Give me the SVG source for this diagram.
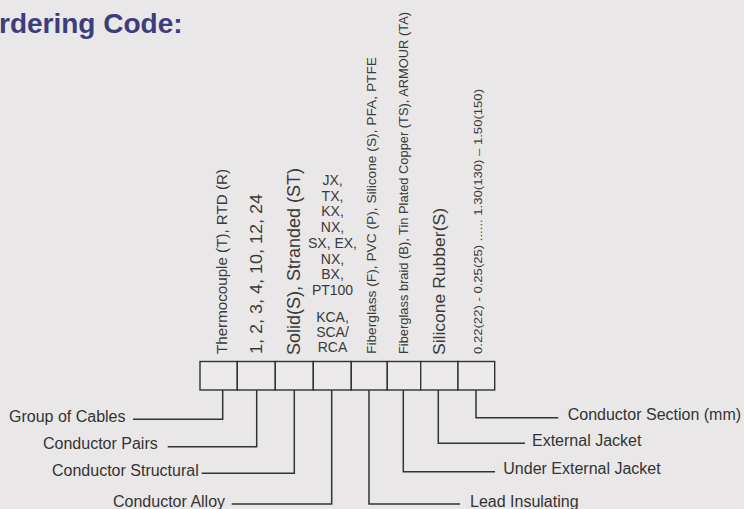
<svg xmlns="http://www.w3.org/2000/svg" width="744" height="509" viewBox="0 0 744 509">
  <style>
    .bg { fill: #e9e7e7; }
    .title { font-family: "Liberation Sans", Arial, sans-serif; font-weight: bold; font-size: 28px; fill: #3b3e7c; }
    .opt { font-family: "Liberation Sans", Arial, sans-serif; fill: #3a3a3a; }
    .lbl { font-family: "Liberation Sans", Arial, sans-serif; font-size: 16px; fill: #333333; }
    .cell { fill: #eceaea; stroke: #333333; stroke-width: 1.4; }
    .conn { fill: none; stroke: #333333; stroke-width: 1.5; }
  </style>
  <rect class="bg" x="0" y="0" width="744" height="509"/>

  <g id="title">
    <text class="title" x="-1" y="33">rdering Code:</text>
  </g>

  <g id="col-1">
    <rect class="cell" x="200" y="361.5" width="37.3" height="28.5"/>
    <text class="opt" font-size="14" transform="translate(226.5,354) rotate(-90)" textLength="185" lengthAdjust="spacingAndGlyphs">Thermocouple (T), RTD (R)</text>
  </g>
  <g id="col-2">
    <rect class="cell" x="237.3" y="361.5" width="38" height="28.5"/>
    <text class="opt" font-size="16.5" transform="translate(261.5,354) rotate(-90)" textLength="160" lengthAdjust="spacingAndGlyphs">1, 2, 3, 4, 10, 12, 24</text>
  </g>
  <g id="col-3">
    <rect class="cell" x="275.3" y="361.5" width="38" height="28.5"/>
    <text class="opt" font-size="17.5" transform="translate(299.5,355) rotate(-90)" textLength="187" lengthAdjust="spacingAndGlyphs">Solid(S), Stranded (ST)</text>
  </g>
  <g id="col-4">
    <rect class="cell" x="313.3" y="361.5" width="38" height="28.5"/>
    <g class="opt" font-size="14" text-anchor="middle">
      <text x="332.5" y="185">JX,</text>
      <text x="332.5" y="200.7">TX,</text>
      <text x="332.5" y="216.4">KX,</text>
      <text x="332.5" y="232.1">NX,</text>
      <text x="332.5" y="247.9">SX, EX,</text>
      <text x="332.5" y="263.6">NX,</text>
      <text x="332.5" y="279.3">BX,</text>
      <text x="332.5" y="295">PT100</text>
      <text x="332.5" y="321.7">KCA,</text>
      <text x="332.5" y="336.7">SCA/</text>
      <text x="332.5" y="351.7">RCA</text>
    </g>
  </g>
  <g id="col-5">
    <rect class="cell" x="351.3" y="361.5" width="36" height="28.5"/>
    <text class="opt" font-size="13.5" transform="translate(375.7,354) rotate(-90)" textLength="297" lengthAdjust="spacingAndGlyphs">Fiberglass (F), PVC (P), Silicone (S), PFA, PTFE</text>
  </g>
  <g id="col-6">
    <rect class="cell" x="387.3" y="361.5" width="33.4" height="28.5"/>
    <text class="opt" font-size="12" transform="translate(407.5,354) rotate(-90)" textLength="342" lengthAdjust="spacingAndGlyphs">Fiberglass braid (B), Tin Plated Copper (TS), ARMOUR (TA)</text>
  </g>
  <g id="col-7">
    <rect class="cell" x="420.7" y="361.5" width="37.3" height="28.5"/>
    <text class="opt" font-size="17" transform="translate(444.5,355) rotate(-90)" textLength="147" lengthAdjust="spacingAndGlyphs">Silicone Rubber(S)</text>
  </g>
  <g id="col-8">
    <rect class="cell" x="458" y="361.5" width="36.7" height="28.5"/>
    <text class="opt" font-size="11" transform="translate(482,354) rotate(-90)" textLength="265" lengthAdjust="spacingAndGlyphs">0.22(22) - 0.25(25) ...... 1.30(130) – 1.50(150)</text>
  </g>

  <g id="connectors">
    <polyline class="conn" points="222.7,390 222.7,419.3 133,419.3"/>
    <polyline class="conn" points="256.7,390 256.7,446.7 167.7,446.7"/>
    <polyline class="conn" points="294.3,390 294.3,473.3 201.7,473.3"/>
    <polyline class="conn" points="331.7,390 331.7,504 231.7,504"/>
    <polyline class="conn" points="369,390 369,504 460,504"/>
    <polyline class="conn" points="403.3,390 403.3,471.7 495,471.7"/>
    <polyline class="conn" points="438.3,390 438.3,443.3 525,443.3"/>
    <polyline class="conn" points="476,390 476,417.7 558.3,417.7"/>
  </g>

  <g id="label-group-of-cables"><text class="lbl" x="9" y="421.8">Group of Cables</text></g>
  <g id="label-conductor-pairs"><text class="lbl" x="43" y="449">Conductor Pairs</text></g>
  <g id="label-conductor-structural"><text class="lbl" x="52" y="475.8">Conductor Structural</text></g>
  <g id="label-conductor-alloy"><text class="lbl" x="113" y="506.5">Conductor Alloy</text></g>
  <g id="label-lead-insulating"><text class="lbl" x="470" y="506.5">Lead Insulating</text></g>
  <g id="label-under-external-jacket"><text class="lbl" x="503.3" y="474">Under External Jacket</text></g>
  <g id="label-external-jacket"><text class="lbl" x="532" y="446">External Jacket</text></g>
  <g id="label-conductor-section"><text class="lbl" x="567.7" y="420.3">Conductor Section (mm)</text></g>
</svg>
